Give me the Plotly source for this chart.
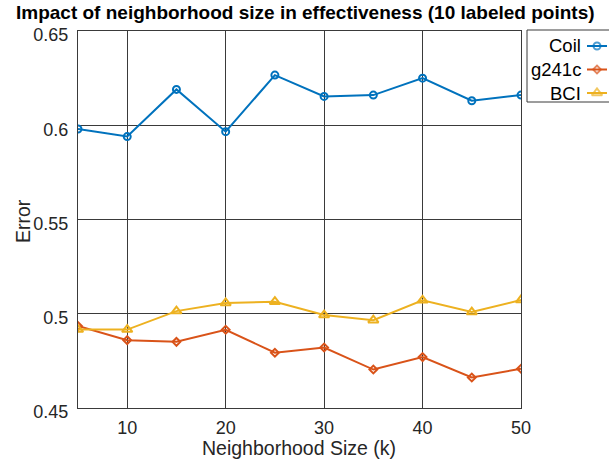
import plotly.graph_objects as go

# ---- data ----
k_values = [5, 10, 15, 20, 25, 30, 35, 40, 45, 50]
coil = [0.598, 0.594, 0.619, 0.5966, 0.6266, 0.6153, 0.616, 0.625, 0.613, 0.616]
g241c = [0.4935, 0.486, 0.4851, 0.4915, 0.4793, 0.4821, 0.4704, 0.477, 0.4662, 0.4708]
bci = [0.4916, 0.4916, 0.5014, 0.5057, 0.5064, 0.4993, 0.4966, 0.5071, 0.5009, 0.5073]
series_names = ["Coil", "g241c", "BCI"]
x_tick_vals = [10, 20, 30, 40, 50]
y_tick_vals = [0.45, 0.5, 0.55, 0.6, 0.65]
y_tick_text = ["0.45", "0.5", "0.55", "0.6", "0.65"]

# ---- styles ----
W, H = 609, 462
FONT = "Liberation Sans, Arial, Helvetica, sans-serif"
TXT = "#262626"
colors = ["#0072BD", "#D95319", "#EDB120"]
symbols = ["circle-open", "diamond-open", "triangle-up-open"]
msizes = [7, 6, 9]

# plot area in pixels
L, R, T, B = 78, 521, 31, 408

def px_x(p):
    return p / W

def px_y(p):
    return (H - p) / H

fig = go.Figure()
for name, vals, c, s, ms in zip(series_names, [coil, g241c, bci], colors, symbols, msizes):
    fig.add_trace(go.Scatter(
        x=k_values, y=vals, name=name, mode="lines+markers",
        line=dict(color=c, width=2),
        marker=dict(symbol=s, size=ms, color=c, line=dict(color=c, width=2)),
        showlegend=False, xaxis="x", yaxis="y",
    ))

# legend samples (on an auxiliary axis covering the legend box)
leg_rows_y = [46, 69.5, 93]
for i, (c, s, ms) in enumerate(zip(colors, symbols, msizes)):
    fig.add_trace(go.Scatter(
        x=[0, 0.5, 1], y=[i, i, i], mode="lines+markers",
        line=dict(color=c, width=2),
        marker=dict(symbol=s, size=[0, ms, 0], color=c, line=dict(color=c, width=2)),
        showlegend=False, xaxis="x2", yaxis="y2", hoverinfo="skip",
    ))

fig.update_layout(
    width=W, height=H,
    margin=dict(l=0, r=0, t=0, b=0, autoexpand=False),
    paper_bgcolor="white", plot_bgcolor="white",
    font=dict(family=FONT, size=18, color=TXT),
    showlegend=False,
    xaxis=dict(
        domain=[px_x(L), px_x(R)], range=[5, 50], automargin=False,
        tickvals=x_tick_vals, ticks="", showgrid=True,
        gridcolor="#3a3a3a", gridwidth=1, zeroline=False,
        showline=True, linecolor="#3a3a3a", linewidth=1, mirror=True,
        tickfont=dict(size=18, color=TXT), anchor="y", ticklabelstandoff=3,
    ),
    yaxis=dict(
        domain=[px_y(B), px_y(T)], range=[0.45, 0.65], automargin=False,
        tickvals=y_tick_vals, ticktext=y_tick_text, ticks="", showgrid=True,
        gridcolor="#3a3a3a", gridwidth=1, zeroline=False,
        showline=True, linecolor="#3a3a3a", linewidth=1, mirror=True,
        tickfont=dict(size=18, color=TXT), anchor="x",
        ticklabelstandoff=5, ticklabelshift=4,
    ),
    xaxis2=dict(
        domain=[px_x(587), px_x(607)], range=[0, 1], visible=False,
        anchor="y2", automargin=False,
    ),
    yaxis2=dict(
        domain=[px_y(93 + 11.75), px_y(46 - 11.75)], range=[2.5, -0.5],
        visible=False, anchor="x2", automargin=False,
    ),
)

# legend box
fig.add_shape(type="rect", xref="paper", yref="paper",
              x0=px_x(527), x1=px_x(615), y0=px_y(102), y1=px_y(30),
              line=dict(color="#3a3a3a", width=1), fillcolor="rgba(255,255,255,0)",
              layer="below")
for name, yy in zip(series_names, leg_rows_y):
    fig.add_annotation(text=name, xref="paper", yref="paper",
                       x=px_x(583), y=px_y(yy), xanchor="right", yanchor="middle",
                       showarrow=False, font=dict(size=18.5, color="black"))

# title
fig.add_annotation(text="<b>Impact of neighborhood size in effectiveness (10 labeled points)</b>",
                   xref="paper", yref="paper", x=px_x(305), y=px_y(13),
                   xanchor="center", yanchor="middle", showarrow=False,
                   font=dict(size=19, color="black"))
# axis titles
fig.add_annotation(text="Neighborhood Size (k)", xref="paper", yref="paper",
                   x=px_x(299), y=px_y(448), xanchor="center", yanchor="middle",
                   showarrow=False, font=dict(size=19.5, color=TXT))
fig.add_annotation(text="Error", xref="paper", yref="paper", textangle=-90,
                   x=px_x(23), y=px_y(221), xanchor="center", yanchor="middle",
                   showarrow=False, font=dict(size=19.5, color=TXT))

fig.write_html("out.html", config={"displayModeBar": False},
               post_script="document.body.style.margin='0px';document.body.style.overflow='hidden';")
